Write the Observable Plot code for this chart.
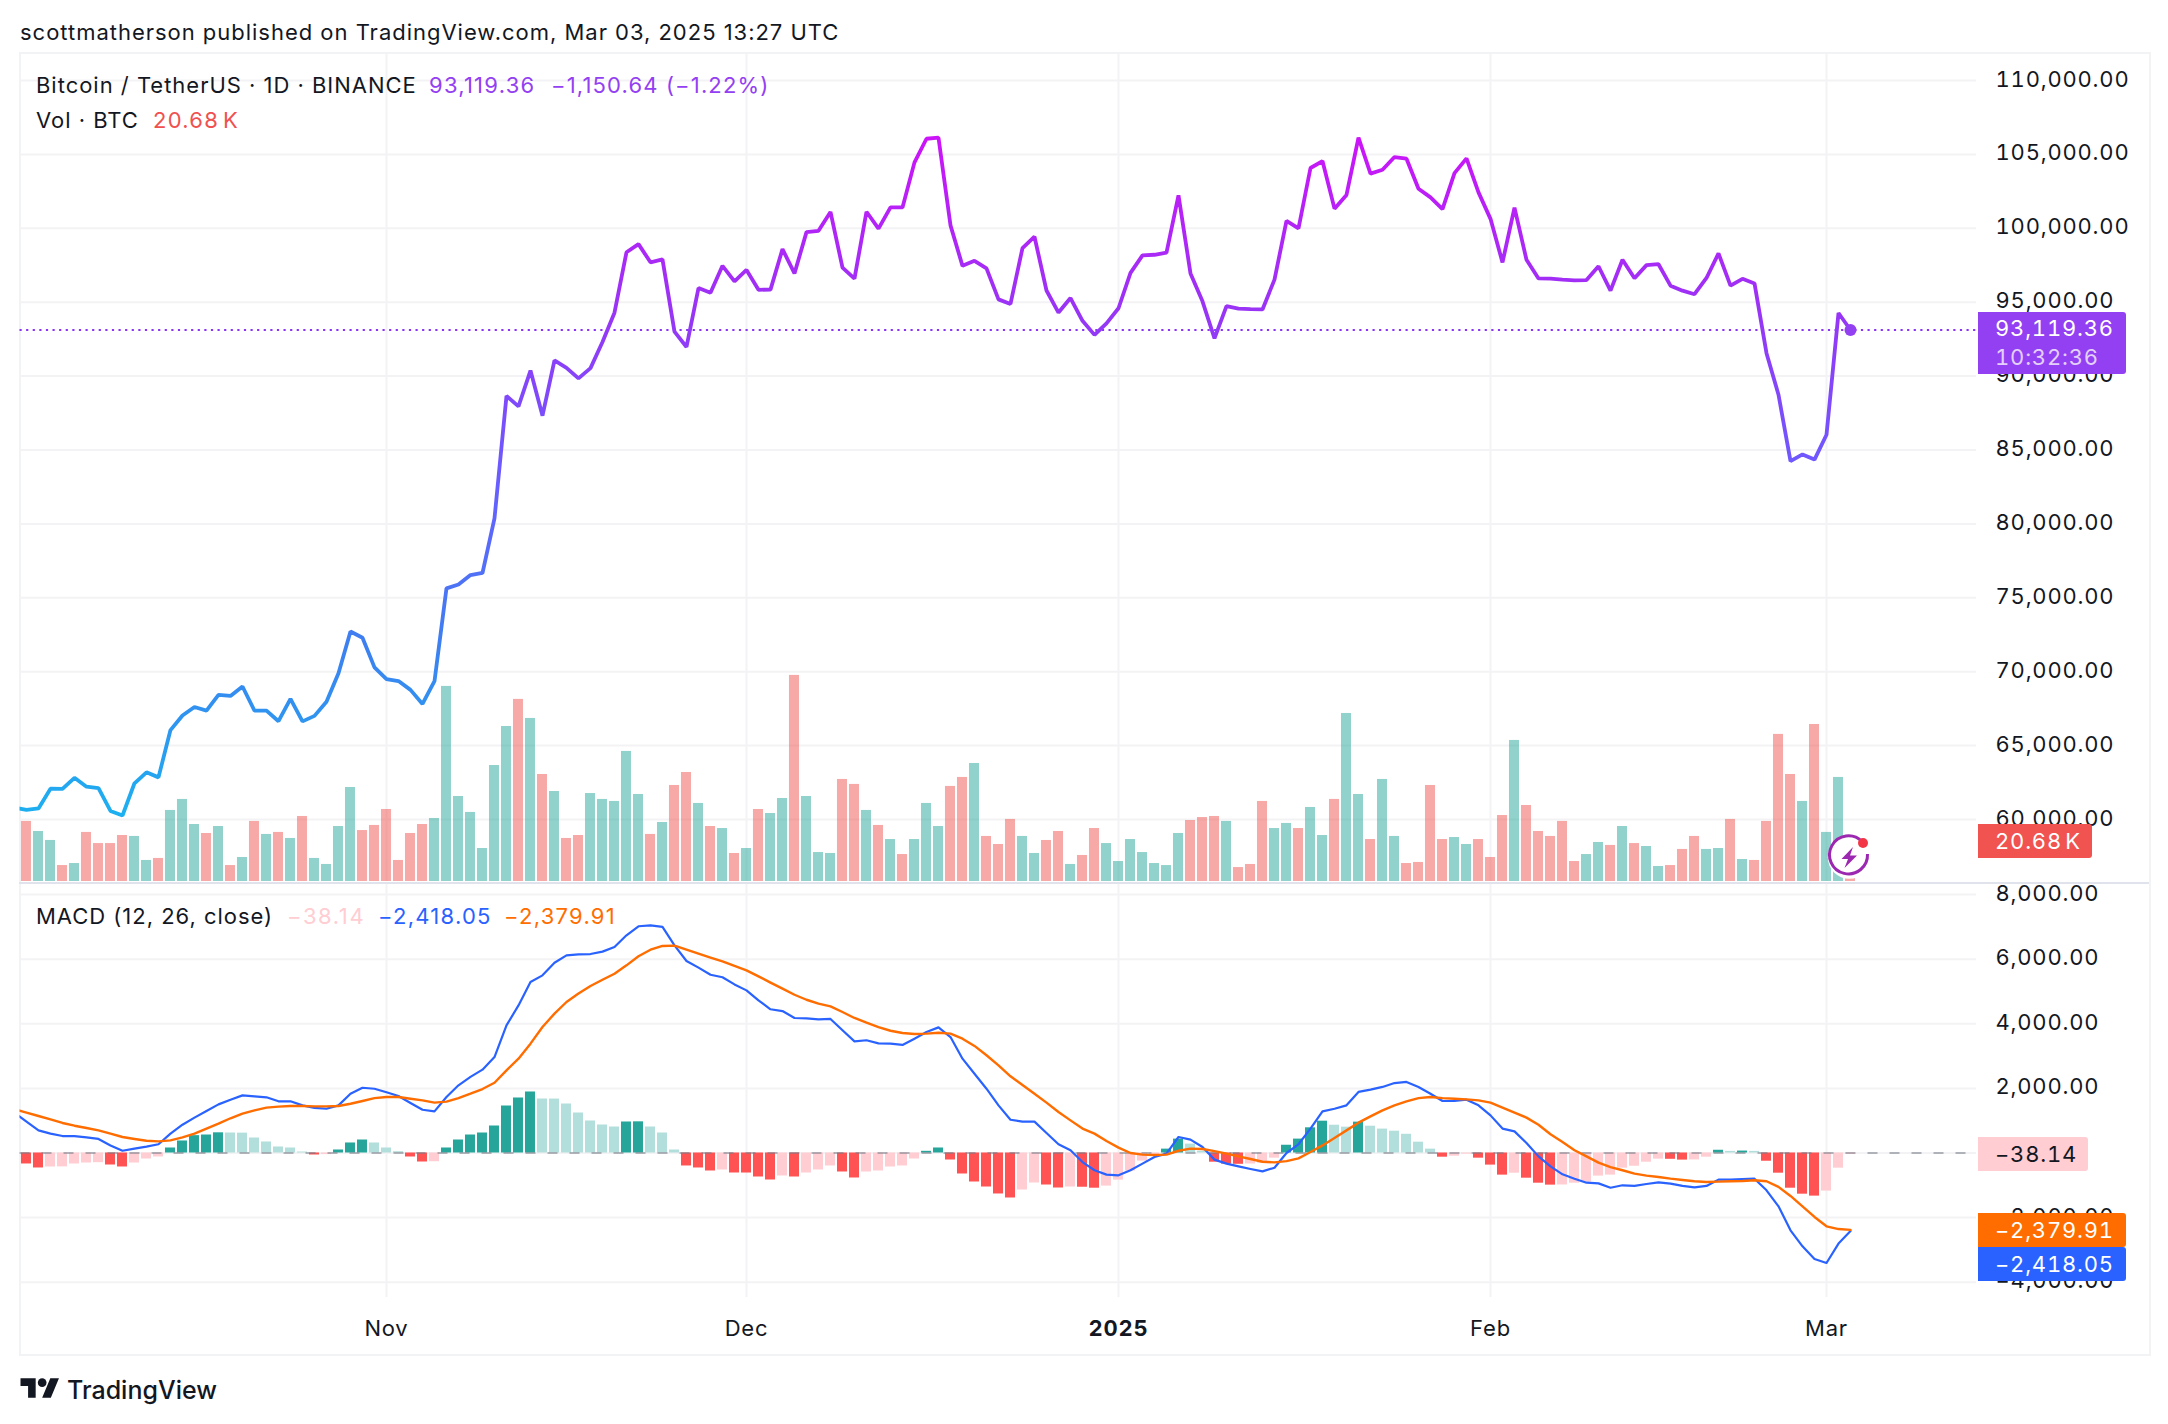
<!DOCTYPE html>
<html><head><meta charset="utf-8">
<script src="https://cdn.jsdelivr.net/npm/d3@7"></script>
<script src="https://cdn.jsdelivr.net/npm/@observablehq/plot@0.6"></script>
<style>
html,body{margin:0;background:#fff}
#page{position:relative;width:2168px;height:1424px;overflow:hidden;font-family:Inter,"Noto Sans",sans-serif;color:#131722;font-size:22px;letter-spacing:.98px}
#frame{position:absolute;left:18.5px;top:52px;width:2128px;height:1300px;border:2px solid #f2f3f5}
#sep{position:absolute;left:19px;top:881.5px;width:2130px;height:2.4px;background:#e0e3eb}
svg.pane{position:absolute;left:0;overflow:visible;background:transparent}
.t{position:absolute;white-space:nowrap;line-height:1;transform:translateY(-50%)}
.n{letter-spacing:1.25px}
.k{word-spacing:-3.5px}
.tag{position:absolute;left:1978px;border-radius:0 3px 3px 0;box-sizing:border-box;padding-left:17px;display:flex;flex-direction:column;justify-content:center;line-height:1.3;letter-spacing:.8px;font-variant-numeric:tabular-nums}
</style></head><body>
<div id="page">
  <div id="frame"></div>
  <div class="t" style="left:20px;top:32px">scottmatherson published on TradingView.com, Mar 03, 2025 13:27 UTC</div>
  <div id="host"></div>
  <div id="sep"></div>
  <div class="t" style="left:36px;top:85px">Bitcoin / TetherUS · 1D · BINANCE</div>
  <div class="t n" style="left:429px;top:85px;color:#9340f2">93,119.36</div>
  <div class="t n" style="left:551px;top:85px;color:#9340f2;letter-spacing:1.15px">−1,150.64 (−1.22%)</div>
  <div class="t" style="left:36px;top:120px">Vol · BTC</div>
  <div class="t n k" style="left:153px;top:120px;color:#f0514f">20.68 K</div>
  <div class="t" style="left:36px;top:916px">MACD (12, 26, close)</div>
  <div class="t n" style="left:287px;top:916px;color:#ffcdd2;letter-spacing:1.6px">−38.14</div>
  <div class="t n" style="left:378px;top:916px;color:#2962ff">−2,418.05</div>
  <div class="t n" style="left:504px;top:916px;color:#ff6d00">−2,379.91</div>

  <div class="tag" style="top:312px;height:62px;width:148px;background:#9340f2;color:#fff"><span>93,119.36</span><span style="color:#e4d0fb">10:32:36</span></div>
  <div class="tag k" style="top:824px;height:34px;width:114px;background:#f05350;color:#fff">20.68 K</div>
  <div class="tag" style="top:1137px;height:34px;width:110px;background:#ffcdd2;color:#131722">−38.14</div>
  <div class="tag" style="top:1213px;height:34px;width:148px;background:#ff6d00;color:#fff">−2,379.91</div>
  <div class="tag" style="top:1247px;height:34px;width:148px;background:#2962ff;color:#fff">−2,418.05</div>

  <svg style="position:absolute;left:1824px;top:832px" width="50" height="50" viewBox="0 0 50 50">
    <circle cx="25.3" cy="25.3" r="21.5" fill="#fff"/>
    <path d="M38 9.5 A19 19 0 1 0 43.5 22" fill="none" stroke="#9c27b0" stroke-width="3"/>
    <path d="M29 15 L17.5 27 L24 27 L20.5 36 L33 23.5 L26 23.5 Z" fill="#9c27b0"/>
    <circle cx="39" cy="11" r="5" fill="#f23645"/>
  </svg>

  <svg style="position:absolute;left:20px;top:1374px" width="40" height="26" viewBox="0 0 36 24"><g fill="#131722"><path d="M14 22H7V11H0V4h14v18zM28 22h-8l7.5-18h8L28 22z"/><circle cx="20" cy="8" r="4"/></g></svg>
  <div class="t" style="left:67px;top:1390px;font-size:25px;font-weight:500;letter-spacing:0">TradingView</div>
</div>
<script>
const DAY = 864e5;
const firstDay = Date.UTC(2024, 9, 1); // Oct 1 2024
// Daily close, Oct 1 2024 .. Mar 3 2025
const closes = [60800,60650,60750,62080,62070,62820,62220,62130,60580,60270,62450,63190,62850,66050,67040,67610,67370,68430,68360,69000,67360,67370,66650,68160,66640,67010,67970,69900,72720,72300,70290,
69500,69370,68770,67820,69360,75640,75900,76540,76680,80370,88650,87950,90375,87325,91060,90560,89845,90540,92310,94290,98380,98930,97700,97900,93010,91970,95960,95640,97460,96410,
97185,95840,95850,98590,96950,99740,99830,101110,97340,96590,101120,99980,101420,101410,104460,106060,106130,100200,97460,97800,97290,95190,94880,98660,99430,95790,94300,95280,93740,92790,93570,
94590,96980,98170,98210,98360,102230,96950,95060,92550,94730,94570,94530,94510,96530,100500,99990,104080,104550,101330,102260,106140,103700,103960,104820,104710,102680,102090,101300,103730,104730,102430,
100640,97690,101400,97870,96610,96590,96530,96480,96500,97430,95780,97870,96620,97510,97570,96120,95780,95540,96640,98300,96120,96580,96270,91550,88740,84250,84700,84350,
86030,94270,93119.36];
// Daily volume in thousand BTC, Oct 2 2024 .. Mar 3 2025
const volumes = [50.8,42.3,34.7,13.5,15.2,41.5,32.1,32.1,38.9,38.1,17.8,19.5,60.1,69.4,48.2,40.6,46.5,13.5,20.3,50.8,39.8,41.5,36.4,55,19.5,14.4,46.5,79.5,43.1,47.4,
60.9,17.8,40.6,48.2,53.3,165,71.9,58.4,27.9,98.1,131.1,154,137.9,90.5,76.1,36.4,38.9,74.4,69.4,67.7,110,73.6,39.8,49.9,81.2,92.2,66,46.5,44.8,23.7,
27.9,60.9,57.5,70.2,174.3,71.9,24.5,23.7,86.3,82.1,60.1,47.4,35.5,22.8,35.5,66,46.5,80.4,88,99.8,38.1,31.3,52.5,38.1,23.7,34.7,42.3,14.4,22,44.8,32.1,
16.9,35.5,24.5,15.2,13.5,40.6,51.6,54.1,55,50.8,11.8,14.4,67.7,44.8,49.1,44.8,62.6,38.9,69.4,142.1,73.6,35.5,86.3,38.1,15.2,16.1,81.2,35.5,37.2,31.3,35.5,
20.3,55.8,119.3,64.3,42.3,38.1,50.8,16.9,22.8,33,30.5,46.5,32.1,29.6,12.7,13.5,27.1,38.1,27.1,27.9,52.5,18.6,17.8,50.8,124.4,90.5,67.7,132.8,
41.5,88,20.68];
// MACD line, Oct 1 2024 .. Mar 3 2025
const macdLine = [1240,970,700,600,525,525,485,435,235,70,135,195,270,600,875,1095,1300,1505,1650,1785,1755,1725,1600,1600,1475,1395,1370,1475,1835,2020,1990,
1880,1765,1550,1340,1290,1735,2095,2355,2580,2970,3950,4570,5295,5500,5890,6120,6150,6160,6235,6380,6740,7020,7050,7000,6430,5945,5740,5520,5440,5220,
5035,4725,4450,4395,4180,4170,4140,4150,3800,3455,3490,3395,3385,3345,3540,3745,3890,3590,2920,2455,1990,1475,1030,970,970,620,270,85,-280,-535,-670,
-690,-535,-330,-125,-20,495,415,185,-205,-330,-415,-495,-570,-455,0,270,755,1290,1370,1475,1890,1960,2045,2165,2200,2045,1835,1610,1610,1650,1475,
1165,755,670,310,-105,-415,-660,-795,-920,-940,-1075,-1000,-1020,-960,-910,-950,-1020,-1065,-1020,-825,-825,-805,-795,-1155,-1650,-2395,-2890,-3280,
-3405,-2805,-2418.05];
// Signal line, Oct 1 2024 .. Mar 3 2025
const signalLine = [1350,1250,1145,1040,930,845,775,700,600,495,435,380,360,390,485,600,755,910,1075,1220,1320,1405,1435,1455,1455,1445,1445,1455,1525,1610,1700,
1735,1735,1680,1630,1560,1590,1700,1835,1980,2175,2560,2920,3385,3900,4315,4675,4935,5170,5365,5550,5810,6090,6295,6410,6420,6295,6170,6050,5935,5790,
5655,5470,5275,5090,4900,4745,4625,4540,4365,4180,4035,3900,3785,3715,3685,3695,3725,3695,3540,3315,3025,2715,2375,2105,1835,1560,1270,1010,755,600,370,
165,0,-50,-60,-50,70,135,125,60,-20,-105,-185,-270,-290,-250,-165,30,235,465,700,940,1135,1320,1475,1600,1700,1735,1700,1680,1660,1630,
1560,1405,1250,1095,875,580,340,85,-105,-300,-435,-535,-640,-700,-745,-795,-835,-875,-900,-885,-875,-865,-845,-875,-1050,-1330,-1650,-1980,-2270,
-2355,-2379.91];
// MACD histogram, Oct 2 2024 .. Mar 3 2025
const histogram = [-340,-464,-433,-430,-340,-310,-300,-372,-433,-310,-186,-124,155,372,537,557,625,619,615,464,341,186,155,31,-62,-50,93,310,402,310,
155,41,-124,-279,-270,155,402,557,619,836,1455,1703,1889,1672,1670,1517,1238,991,867,805,960,965,805,619,93,-402,-464,-557,-526,-619,
-620,-743,-836,-712,-743,-619,-526,-402,-588,-774,-588,-557,-433,-402,-186,52,155,-217,-650,-898,-1053,-1269,-1393,-1146,-929,-991,-1084,-1053,-1060,-1090,-1025,
-840,-560,-250,-65,120,430,275,55,-285,-345,-350,-340,-315,-160,240,430,780,985,860,800,955,830,740,675,580,335,120,-130,-100,-35,-160,
-375,-685,-625,-780,-935,-995,-990,-935,-900,-715,-685,-470,-410,-285,-190,-195,-220,-215,-130,85,50,60,50,-255,-625,-1090,-1275,-1335,
-1180,-470,-38.14];
const priceTicks = d3.range(60000, 110001, 5000);
const macdTicks = d3.range(-4000, 8001, 2000);
const monthTicks = [[2024,10,"Nov"],[2024,11,"Dec"],[2025,1,"Feb"],[2025,2,"Mar"]];
const yearTicks = [[2025,0,"2025"]];
const lastClose = closes[closes.length - 1];

const dayOf = i => new Date(firstDay + i * DAY);
const monthDates = monthTicks.map(([y, m]) => new Date(Date.UTC(y, m, 1)));
const yearDates = yearTicks.map(([y, m]) => new Date(Date.UTC(y, m, 1)));
const allMonths = [...monthDates, ...yearDates];
const labelOf = d => [...monthTicks, ...yearTicks].find(([y, m]) => Date.UTC(y, m, 1) === +d)[2];
const money = d3.format(",.2f");

const nov1 = Date.UTC(2024, 10, 1);
const xDomain = [new Date(nov1 - 30.54 * DAY), new Date(nov1 + 132.5 * DAY)];
const x = {type: "utc", domain: xDomain, axis: null};
const half = 10 * 36e5; // bar half width

const grid = "#f3f3f5";
const priceRows = closes.map((v, i) => ({date: dayOf(i), v}));
const volRows = volumes.map((v, i) => ({date: dayOf(i + 1), v, up: closes[i + 1] >= closes[i]}));
const lineRows = macdLine.map((v, i) => ({date: dayOf(i), macd: v, signal: signalLine[i]}));
const histRows = histogram.map((v, i) => {
  const prev = i ? histogram[i - 1] : v;
  const colour = v >= 0 ? (v > prev ? "#26a69a" : "#b2dfdb") : (v > prev ? "#ffcdd2" : "#ff5252");
  return {date: dayOf(i + 1), v, colour};
});

const yLow = 55805, yHigh = 111827, volK = 80;
const volToPrice = d3.scaleLinear([0, 1], [yLow, yLow + volK]);

const gradient = () => {
  const defs = d3.create("svg:defs");
  const g = defs.append("linearGradient").attr("id", "priceGrad").attr("x1", 0).attr("x2", 0).attr("y1", 0).attr("y2", 1);
  [[0, "#cc14f8"], [.25, "#9a33f5"], [.5, "#6a5cff"], [.75, "#3d80f0"], [1, "#1db0f0"]]
    .forEach(([o, c]) => g.append("stop").attr("offset", o).attr("stop-color", c));
  return defs.node();
};

const axisStyle = {fontFamily: "Inter, sans-serif", fontSize: "22px", letterSpacing: "0.8px", fontVariantNumeric: "tabular-nums", color: "#131722", background: "transparent", overflow: "visible"};
const yAxisOpts = {anchor: "right", tickSize: 0, tickPadding: 19, tickFormat: money, fill: "#131722", fontSize: 22, label: null, dy: -1};
const xAxisOpts = {anchor: "bottom", tickSize: 0, tickPadding: 23, tickFormat: labelOf, fill: "#131722", fontSize: 22, label: null};

const upperPane = Plot.plot({
  width: 2168, height: 828, marginTop: 0, marginBottom: 0, marginLeft: 19.5, marginRight: 192,
  style: axisStyle,
  x, y: {domain: [yLow, yHigh], axis: null}, color: {type: "identity"},
  marks: [
    gradient,
    Plot.ruleY(priceTicks, {stroke: grid, strokeWidth: 2}),
    Plot.ruleX(allMonths, {stroke: grid, strokeWidth: 2}),
    Plot.axisY(priceTicks, yAxisOpts),
    Plot.rect(volRows, {x1: d => new Date(+d.date - half), x2: d => new Date(+d.date + half), y1: () => yLow, y2: d => volToPrice(d.v),
      fill: d => d.up ? "#26a69a" : "#ef5350", fillOpacity: .5}),
    Plot.ruleY([lastClose], {stroke: "#8a35f5", strokeWidth: 2, strokeDasharray: "2.2,4.4"}),
    Plot.line(priceRows, {x: "date", y: "v", stroke: "url(#priceGrad)", strokeWidth: 3.8, strokeLinejoin: "miter", clip: true}),
    Plot.dot(priceRows.slice(-1), {x: "date", y: "v", r: 6, fill: "#9340f2"})
  ]
});
const lowerPane = Plot.plot({
  width: 2168, height: 470, marginTop: 0, marginBottom: 57, marginLeft: 19.5, marginRight: 192,
  style: axisStyle,
  x, y: {domain: [-4474, 8313], axis: null}, color: {type: "identity"},
  marks: [
    Plot.ruleY(macdTicks, {stroke: grid, strokeWidth: 2}),
    Plot.ruleX(allMonths, {stroke: grid, strokeWidth: 2}),
    Plot.axisY(macdTicks, yAxisOpts),
    Plot.axisX(monthDates, xAxisOpts),
    Plot.axisX(yearDates, {...xAxisOpts, fontWeight: 700}),
    Plot.rect(histRows, {x1: d => new Date(+d.date - half), x2: d => new Date(+d.date + half), y1: () => 0, y2: "v", fill: "colour"}),
    Plot.ruleY([0], {stroke: "#787b86", strokeOpacity: .55, strokeWidth: 2, strokeDasharray: "10,12"}),
    Plot.line(lineRows, {x: "date", y: "macd", stroke: "#2962ff", strokeWidth: 2.2, clip: true}),
    Plot.line(lineRows, {x: "date", y: "signal", stroke: "#ff6d00", strokeWidth: 2.4, clip: true})
  ]
});
upperPane.classList.add("pane"); upperPane.style.top = "53px";
lowerPane.classList.add("pane"); lowerPane.style.top = "884px";
document.getElementById("host").append(upperPane, lowerPane);
</script>
</body></html>
